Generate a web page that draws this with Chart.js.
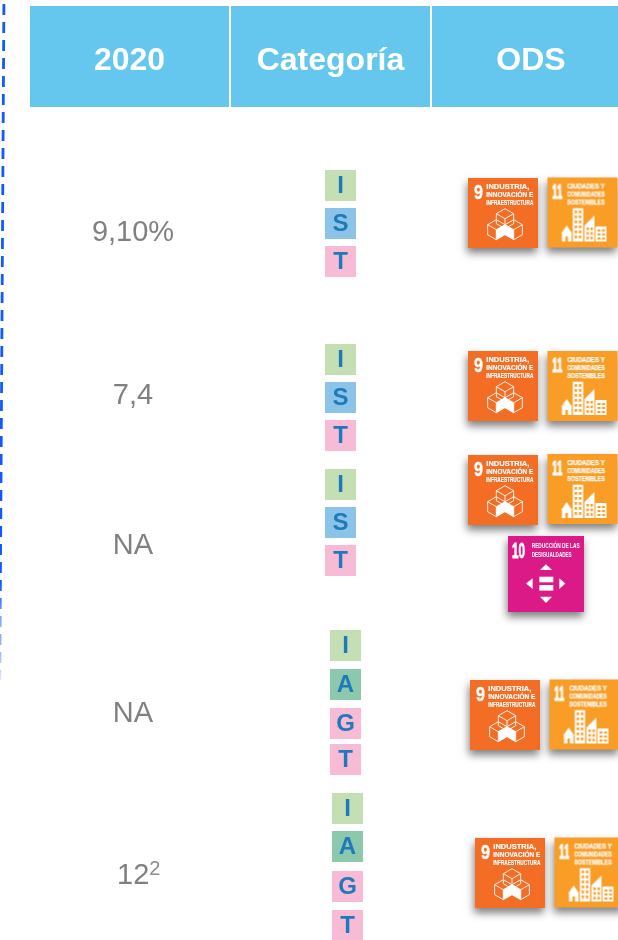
<!DOCTYPE html>
<html lang="es">
<head>
<meta charset="utf-8">
<title>Indicadores 2020</title>
<script src="https://cdn.jsdelivr.net/npm/chart.js@4/dist/chart.umd.min.js"></script>
<style>
  html, body { margin: 0; padding: 0; background: #fff; overflow: hidden; }
  canvas { display: block; }
</style>
</head>
<body>
<canvas id="tabla" width="618" height="940"></canvas>
<script>
// table content
const headers = ["2020", "Categoría", "ODS"];
const values2020 = ["9,10%", "7,4", "NA", "NA", "12"];
const valueNotes = ["", "", "", "", "2"];
const rowCategories = [
  ["I", "S", "T"],
  ["I", "S", "T"],
  ["I", "S", "T"],
  ["I", "A", "G", "T"],
  ["I", "A", "G", "T"],
];
const rowOds = [[9, 11], [9, 11], [9, 11, 10], [9, 11], [9, 11]];
const odsTitles = {
  9: ["INDUSTRIA,", "INNOVACIÓN E", "INFRAESTRUCTURA"],
  10: ["REDUCCIÓN DE LAS", "DESIGUALDADES"],
  11: ["CIUDADES Y", "COMUNIDADES", "SOSTENIBLES"],
};

// where things sit on the page (the scales run 0-618 and 0-940)
const headerX = [129.5, 330.5, 531];
const headerY = 56.5;
const valueX = 133;
const valueY = [231, 394, 544, 712, 874];
const categoryX = [340.5, 340.5, 340.5, 345.5, 347.5];
const categoryY = [
  [185.5, 223.5, 261.5],
  [359.5, 397.5, 435.5],
  [484, 522, 560],
  [645.5, 684.5, 723.5, 759.5],
  [808, 846, 886, 925],
];
const odsPos = [
  [[503, 213], [582.5, 212.5]],
  [[503, 386], [582.5, 386]],
  [[503, 490], [582.5, 489], [546, 574]],
  [[505, 715], [584.5, 714.5]],
  [[510, 873], [589.5, 872.5]],
];

const categoryColors = { I: "#C5DFB5", S: "#8CC3E8", A: "#8CC8AE", G: "#F8BBD6", T: "#F8BBD6" };
const odsColors = { 9: "#F36D25", 10: "#DC1A87", 11: "#FA9D26" };
const greyText = "#808080";
const letterBlue = "#1F7ABA";

function makeCanvas(w, h) {
  const c = document.createElement("canvas");
  c.width = w;
  c.height = h;
  return c;
}

function headerCell() {
  const c = makeCanvas(199, 101);
  const g = c.getContext("2d");
  g.fillStyle = "#65C7EE";
  g.fillRect(0, 0, 199, 101);
  return c;
}

function categoryTile(letter) {
  const c = makeCanvas(31, 31);
  const g = c.getContext("2d");
  g.fillStyle = categoryColors[letter];
  g.fillRect(0, 0, 31, 31);
  return c;
}

function drawCube(g, cx, cy, r, fillFace) {
  const a = r * Math.cos(Math.PI / 6);
  const h = r / 2;
  g.beginPath();
  g.moveTo(cx, cy - r);
  g.lineTo(cx + a, cy - h);
  g.lineTo(cx + a, cy + h);
  g.lineTo(cx, cy + r);
  g.lineTo(cx - a, cy + h);
  g.lineTo(cx - a, cy - h);
  g.closePath();
  g.moveTo(cx - a, cy - h);
  g.lineTo(cx, cy);
  g.lineTo(cx + a, cy - h);
  g.moveTo(cx, cy);
  g.lineTo(cx, cy + r);
  g.stroke();
  if (fillFace) {
    g.beginPath();
    g.moveTo(cx, cy);
    g.lineTo(cx, cy + r);
    g.lineTo(cx + (fillFace === "l" ? -a : a), cy + h);
    g.lineTo(cx + (fillFace === "l" ? -a : a), cy - h);
    g.closePath();
    g.fill();
  }
}

function drawCity(g) {
  g.beginPath(); // house
  g.moveTo(13.7, 56); g.lineTo(19.2, 48); g.lineTo(24.7, 56);
  g.closePath(); g.fill();
  g.fillRect(14.5, 56, 9.5, 8);
  g.fillRect(25.3, 30.7, 10.4, 33.3); // tower
  g.beginPath(); // wedge
  g.moveTo(37, 48); g.lineTo(47, 38); g.lineTo(47, 64); g.lineTo(37, 64);
  g.closePath(); g.fill();
  g.fillRect(48, 49, 11, 15); // low block
  g.fillStyle = odsColors[11];
  g.fillRect(18, 59, 2.4, 5);
  for (let row = 0; row < 6; row++) {
    g.fillRect(27.2, 33 + row * 5, 2.4, 2.8);
    g.fillRect(31.4, 33 + row * 5, 2.4, 2.8);
  }
  for (let row = 0; row < 3; row++) {
    g.fillRect(39, 50 + row * 4.6, 2.4, 2.6);
    g.fillRect(43, 50 + row * 4.6, 2.4, 2.6);
    g.fillRect(50, 52 + row * 4, 3, 2);
    g.fillRect(54.5, 52 + row * 4, 3, 2);
  }
}

function drawArrows(g) {
  const tri = (a, b, c, d, e, f) => {
    g.beginPath(); g.moveTo(a, b); g.lineTo(c, d); g.lineTo(e, f); g.closePath(); g.fill();
  };
  tri(38, 28.3, 32, 34, 44, 34);
  tri(38, 67, 32, 60.7, 44, 60.7);
  tri(18, 47.6, 24.7, 42.3, 24.7, 53);
  tri(57.3, 47.6, 51.3, 42.3, 51.3, 53);
  g.fillRect(31.3, 40.7, 14, 5.6);
  g.fillRect(31.3, 49, 14, 5.6);
}

// squeezed text goes thin, a hairline stroke brings the weight back
function heavyText(g, text, x, y, maxW, weight) {
  g.lineWidth = weight;
  g.strokeText(text, x, y, maxW);
  g.fillText(text, x, y, maxW);
}

// tile with room around it for the soft shadow, centred on its point
function odsTile(num) {
  const size = num === 10 ? 76 : 70;
  const pad = 14;
  const c = makeCanvas(size + pad * 2, size + pad * 2);
  const g = c.getContext("2d");
  g.save();
  g.shadowColor = "rgba(0,0,0,0.5)";
  g.shadowBlur = 8;
  g.shadowOffsetX = -1;
  g.shadowOffsetY = 5;
  g.fillStyle = odsColors[num];
  g.fillRect(pad, pad, size, size);
  g.restore();

  g.translate(pad, pad);
  g.fillStyle = "#fff";
  g.strokeStyle = "#fff";
  g.textBaseline = "alphabetic";
  g.textAlign = "left";
  const numberFont = '"Liberation Sans Narrow", "Liberation Sans", sans-serif';

  if (num === 9) {
    g.font = "bold 21px " + numberFont;
    heavyText(g, "9", 6, 20.7, 9, 0.4);
    g.font = "bold 7.5px " + numberFont;
    odsTitles[9].forEach((line, i) => heavyText(g, line, 18.3, [11.3, 19, 27][i], 47, 0.15));
    g.lineWidth = 0.9;
    drawCube(g, 37, 40.7, 10, "");
    drawCube(g, 28.3, 51.7, 10, "r");
    drawCube(g, 45.7, 51.7, 10, "l");
  } else if (num === 11) {
    g.font = "bold 21px " + numberFont;
    heavyText(g, "11", 4.5, 20.7, 10.5, 0.9);
    g.font = "bold 7.5px " + numberFont;
    odsTitles[11].forEach((line, i) => heavyText(g, line, 19.7, [10.7, 18.7, 27.3][i], 37.5, 0.25));
    drawCity(g);
  } else {
    g.font = "bold 22px " + numberFont;
    heavyText(g, "10", 4, 21.7, 13, 0.8);
    g.font = "bold 7.5px " + numberFont;
    odsTitles[10].forEach((line, i) => g.fillText(line, 23.7, [11.7, 20.7][i], [48, 40][i]));
    drawArrows(g);
  }
  return c;
}

// datasets
const headerPoints = headers.map((text, i) => ({ x: headerX[i], y: headerY, text }));
const valuePoints = values2020.map((text, i) => ({ x: valueX, y: valueY[i], text, note: valueNotes[i] }));
const categoryPoints = rowCategories.flatMap((letters, r) =>
  letters.map((text, i) => ({ x: categoryX[r], y: categoryY[r][i], text })));
const odsPoints = rowOds.flatMap((nums, r) =>
  nums.map((num, i) => ({ x: odsPos[r][i][0], y: odsPos[r][i][1], num })));

// soft fade on the dashed divider, it dies out around y=680
function dividerGradient(context) {
  const area = context.chart.chartArea;
  if (!area) return "#1459FF";
  const grad = context.chart.ctx.createLinearGradient(0, 0, 0, 940);
  grad.addColorStop(0, "#1459FF");
  grad.addColorStop(0.62, "#1459FF");
  grad.addColorStop(0.66, "#80AAFF");
  grad.addColorStop(0.73, "rgba(20,89,255,0.05)");
  return grad;
}

const cellText = {
  id: "cellText",
  afterDatasetsDraw(chart) {
    const { ctx } = chart;
    chart.data.datasets.forEach((ds, d) => {
      if (!ds.textStyle) return;
      chart.getDatasetMeta(d).data.forEach((el, i) => {
        const p = ds.data[i];
        ctx.save();
        ctx.font = ds.textStyle.font;
        ctx.fillStyle = ds.textStyle.color;
        ctx.textBaseline = "middle";
        ctx.textAlign = "center";
        if (p.note) {
          // number plus superscript, centred as one piece
          const w = ctx.measureText(p.text).width;
          ctx.textAlign = "left";
          ctx.fillText(p.text, el.x - 16, el.y + 2);
          ctx.font = "20px 'Liberation Sans', Arial, sans-serif";
          ctx.fillStyle = "#8C8C8C";
          ctx.fillText(p.note, el.x - 16 + w, el.y - 5);
        } else {
          ctx.fillText(p.text, el.x, el.y + (ds.textStyle.dy || 0));
        }
        ctx.restore();
      });
    });
  },
};

new Chart(document.getElementById("tabla"), {
  type: "scatter",
  data: {
    datasets: [
      {
        label: "divisor",
        data: [{ x: 3.9, y: 4 }, { x: -0.2, y: 680 }],
        showLine: true,
        pointRadius: 0,
        borderWidth: 2.8,
        borderDash: [11, 7],
        borderColor: dividerGradient,
      },
      {
        label: "ODS",
        data: odsPoints,
        pointStyle: odsPoints.map((p) => odsTile(p.num)),
        pointRadius: 5,
      },
      {
        label: "encabezado",
        data: headerPoints,
        pointStyle: headerCell(),
        pointRadius: 5,
        textStyle: { font: "bold 32px 'Liberation Sans', Arial, sans-serif", color: "#fff", dy: 5 },
      },
      {
        label: "2020",
        data: valuePoints,
        pointRadius: 0,
        textStyle: { font: "29px 'Liberation Sans', Arial, sans-serif", color: greyText, dy: 2 },
      },
      {
        label: "Categoría",
        data: categoryPoints,
        pointStyle: categoryPoints.map((p) => categoryTile(p.text)),
        pointRadius: 5,
        textStyle: { font: "bold 24px 'Liberation Sans', Arial, sans-serif", color: letterBlue, dy: 1 },
      },
    ],
  },
  options: {
    responsive: false,
    animation: false,
    events: [],
    layout: { padding: 0, autoPadding: false },
    plugins: { legend: { display: false }, tooltip: { enabled: false } },
    scales: {
      x: { type: "linear", display: false, min: 0, max: 618 },
      y: { type: "linear", display: false, min: 0, max: 940, reverse: true },
    },
  },
  plugins: [cellText],
});
</script>
</body>
</html>
